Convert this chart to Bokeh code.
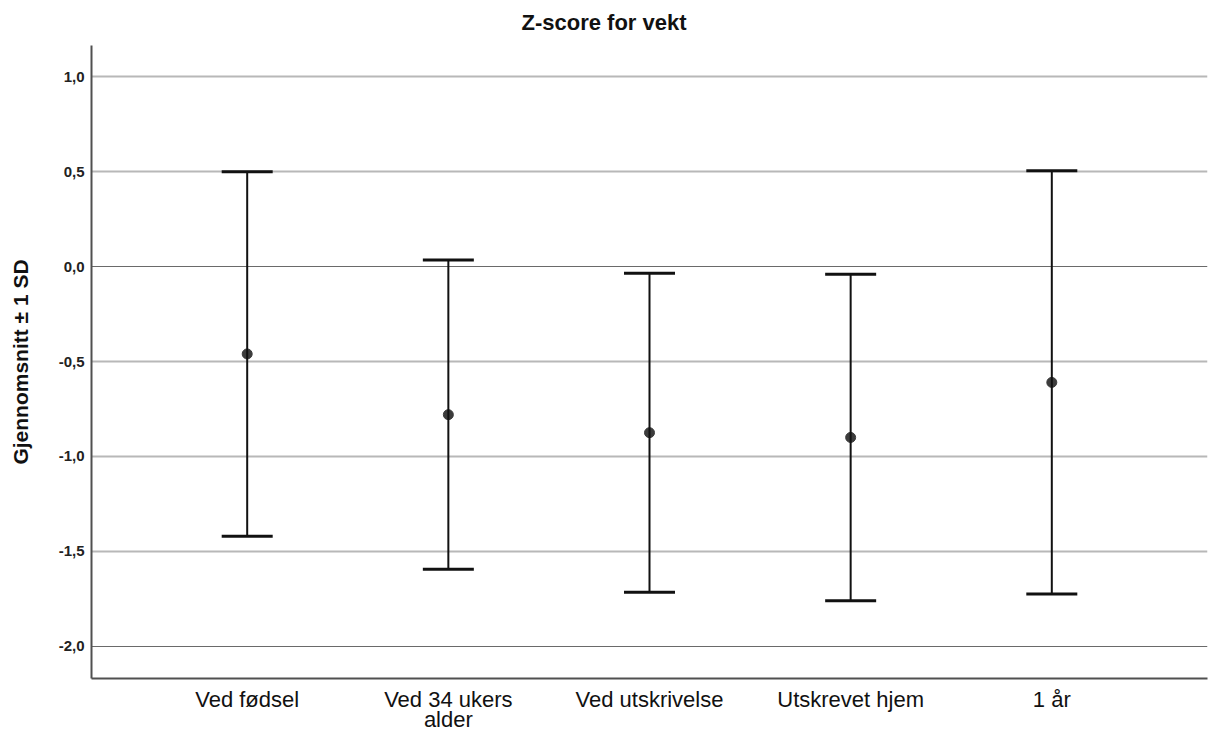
from bokeh.plotting import figure
from bokeh.models import (ColumnDataSource, FactorRange, Range1d, Whisker, TeeHead,
                          Grid, FixedTicker, CustomJSTickFormatter, CategoricalAxis)
from bokeh.embed import file_html
from bokeh.resources import INLINE

# Data: mean Z-score for weight at each time point, with ±1 SD
categories = ["Ved fødsel", "Ved 34 ukers alder", "Ved utskrivelse", "Utskrevet hjem", "1 år"]
category_labels = ["Ved fødsel", "Ved 34 ukers\nalder", "Ved utskrivelse", "Utskrevet hjem", "1 år"]
means = [-0.46, -0.78, -0.875, -0.90, -0.61]
sds = [0.96, 0.815, 0.84, 0.86, 1.115]

y_ticks = [-2.0, -1.5, -1.0, -0.5, 0.0, 0.5, 1.0]
y_tick_labels = ["-2,0", "-1,5", "-1,0", "-0,5", "0,0", "0,5", "1,0"]
light_grid_ticks = [-1.5, -1.0, -0.5, 0.5, 1.0]
dark_grid_ticks = [-2.0, 0.0]

FONT = "Liberation Sans"

source = ColumnDataSource(data=dict(
    cat=categories,
    mean=means,
    upper=[m + s for m, s in zip(means, sds)],
    lower=[m - s for m, s in zip(means, sds)],
))

p = figure(
    width=1209, height=735,
    x_range=FactorRange(factors=categories, range_padding=0.1096),
    y_range=Range1d(-2.17, 1.165),
    output_backend="svg", toolbar_location=None,
    min_border_left=91, min_border_right=2, min_border_top=45, min_border_bottom=57,
)
p.outline_line_color = None
p.background_fill_color = "white"
p.border_fill_color = "white"

# Title
p.title.text = "Z-score for vekt"
p.title.text_font = FONT
p.title.text_font_size = "22px"
p.title.text_font_style = "bold"
p.title.text_color = "#111111"
p.title.align = "left"
p.title.offset = 430
p.title.vertical_align = "top"
p.title.standoff = 18

# Grid lines
p.xgrid.visible = False
p.ygrid.visible = False
p.add_layout(Grid(dimension=1, ticker=FixedTicker(ticks=light_grid_ticks),
                  grid_line_color="#b8b8b8", grid_line_width=2))
p.add_layout(Grid(dimension=1, ticker=FixedTicker(ticks=dark_grid_ticks),
                  grid_line_color="#6a6a6a", grid_line_width=1))

# Y axis
p.yaxis.ticker = FixedTicker(ticks=y_ticks)
p.yaxis.formatter = CustomJSTickFormatter(
    args=dict(tick_values=y_ticks, tick_texts=y_tick_labels),
    code="const i = tick_values.indexOf(tick); return i >= 0 ? tick_texts[i] : '';",
)
p.yaxis.axis_label = "Gjennomsnitt ± 1 SD"
p.yaxis.axis_label_text_font = FONT
p.yaxis.axis_label_text_font_size = "21px"
p.yaxis.axis_label_text_font_style = "bold"
p.yaxis.axis_label_text_color = "#111111"
p.yaxis.axis_label_standoff = 24
p.yaxis.major_label_text_font = FONT
p.yaxis.major_label_text_font_size = "15px"
p.yaxis.major_label_text_font_style = "bold"
p.yaxis.major_label_text_color = "#222222"
p.yaxis.major_label_standoff = 7

# X axis: category names, wrapped onto a second row where needed
first_lines = [lbl.split("\n")[0] for lbl in category_labels]
second_lines = [lbl.split("\n")[1] if "\n" in lbl else "" for lbl in category_labels]

LOOKUP = "const i = names.indexOf(tick); return i >= 0 ? texts[i] : '';"
p.xaxis.formatter = CustomJSTickFormatter(
    args=dict(names=categories, texts=first_lines), code=LOOKUP)
p.xaxis.major_label_standoff = 8

x_wrap = CategoricalAxis(formatter=CustomJSTickFormatter(
    args=dict(names=categories, texts=second_lines), code=LOOKUP))
x_wrap.axis_line_color = None
x_wrap.major_label_standoff = -8
p.add_layout(x_wrap, "below")

for ax in (p.xaxis[0], x_wrap):
    ax.major_label_text_font = FONT
    ax.major_label_text_font_size = "22px"
    ax.major_label_text_color = "#111111"

for ax in (p.xaxis[0], x_wrap, p.yaxis[0]):
    ax.major_tick_line_color = None
    ax.minor_tick_line_color = None
    ax.major_tick_out = 0
    ax.major_tick_in = 0

for ax in (p.xaxis[0], p.yaxis[0]):
    ax.axis_line_color = "#505050"
    ax.axis_line_width = 2

# Error bars (mean ± 1 SD)
whisker = Whisker(
    base="cat", upper="upper", lower="lower", source=source,
    line_color="#111111", line_width=2,
    upper_head=TeeHead(size=51, line_color="#111111", line_width=3),
    lower_head=TeeHead(size=51, line_color="#111111", line_width=3),
)
whisker.level = "glyph"
p.add_layout(whisker)

# Mean markers
p.scatter(x="cat", y="mean", source=source, size=10,
          fill_color="#3c3c3c", line_color="#3c3c3c")

open("out.html", "w").write(file_html(p, INLINE))
